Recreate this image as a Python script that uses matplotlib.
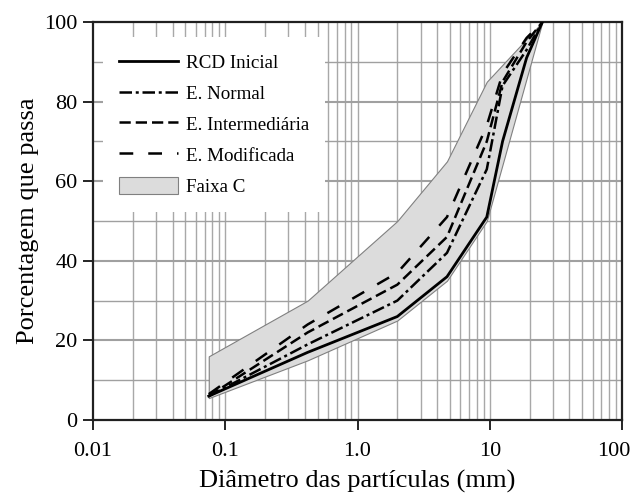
import numpy as np
import matplotlib
matplotlib.use("Agg")
from matplotlib import pyplot as plt
from matplotlib.ticker import FixedLocator, NullFormatter
from matplotlib.transforms import ScaledTranslation

plt.rcParams['font.family'] = ['Liberation Serif', 'DejaVu Serif']

# sieve openings (mm)
sieves = [0.075, 0.42, 2.0, 4.75, 9.5, 12.5, 19.0, 25.0]

rcd_inicial = [6, 17, 26, 36, 51, 70, 91, 100]
e_normal = [6, 19, 30, 42, 63, 84, 93, 100]
e_intermed = [6, 22, 34, 46, 70, 85, 95, 100]
e_modificada = [6.5, 24, 37, 51, 74, 87, 96, 100]

# Faixa C limits
band_sieves = [0.075, 0.42, 2.0, 4.75, 9.5, 25.0]
band_low = [5.5, 15, 25, 35, 50, 100]
band_high = [16, 30, 50, 65, 85, 100]

x_ticks = [0.01, 0.1, 1, 10, 100]
x_labels = ["0.01", "0.1", "1.0", "10", "100"]
y_ticks = [0, 20, 40, 60, 80, 100]

fig = plt.figure(figsize=(6.35, 5.0), dpi=100)
ax = fig.add_axes([0.1465, 0.16, 0.833, 0.796])

ax.set_xscale('log')
ax.set_xlim(0.01, 100)
ax.set_ylim(0, 100)

# grid
minor_x = [m * 10.0 ** e for e in range(-2, 2) for m in range(2, 10)]
ax.xaxis.set_minor_locator(FixedLocator(minor_x))
ax.xaxis.set_minor_formatter(NullFormatter())
for xv in minor_x + [0.1, 1, 10]:
    ax.axvline(xv, color='#a8a8a8', lw=1.0, zorder=0)
for yv in range(10, 100, 10):
    ax.axhline(yv, color='#a0a0a0', lw=1.5 if yv % 20 == 0 else 1.0, zorder=0)

ax.fill_between(band_sieves, band_low, band_high, facecolor='#dcdcdc',
                edgecolor='#808080', lw=0.8, zorder=1, label='Faixa C')

ax.plot(sieves, rcd_inicial, color='black', lw=2.0, label='RCD Inicial', zorder=3)
ax.plot(sieves, e_normal, color='black', lw=1.8, dashes=(5, 1.5, 1.2, 1.5),
        label='E. Normal', zorder=3)
ax.plot(sieves, e_intermed, color='black', lw=1.8, dashes=(4.5, 2),
        label='E. Intermediária', zorder=3)
ax.plot(sieves, e_modificada, color='black', lw=1.8, dashes=(5.5, 6),
        label='E. Modificada', zorder=3)

ax.set_xticks(x_ticks)
ax.set_xticklabels(x_labels)
ax.set_yticks(y_ticks)
ax.tick_params(axis='both', which='major', direction='out', length=7,
               width=1.2, labelsize=16, colors='black')
ax.tick_params(axis='x', which='minor', length=0)
ax.tick_params(axis='x', pad=9)
ax.tick_params(axis='y', pad=4)

# keep the last x label inside the figure
last = ax.get_xticklabels()[-1]
last.set_transform(last.get_transform() + ScaledTranslation(-6 / 72, 0, fig.dpi_scale_trans))

for s in ax.spines.values():
    s.set_linewidth(1.6)
    s.set_color('#202020')

ax.set_xlabel('Diâmetro das partículas (mm)', fontsize=19, labelpad=6)
ax.set_ylabel('Porcentagem que passa', fontsize=19, labelpad=4)

handles, labels = ax.get_legend_handles_labels()
order = [1, 2, 3, 4, 0]
leg = ax.legend([handles[i] for i in order], [labels[i] for i in order],
                loc='upper left', bbox_to_anchor=(0.019, 0.962), fontsize=13.7,
                handlelength=3.1, handleheight=1.0, handletextpad=0.4,
                labelspacing=0.62, frameon=True, borderpad=0.85,
                borderaxespad=0)
leg.get_frame().set_facecolor('white')
leg.get_frame().set_edgecolor('none')
leg.get_frame().set_alpha(1)
leg.get_frame().set_boxstyle('square', pad=0)

fig.savefig('out.png', dpi=100)
